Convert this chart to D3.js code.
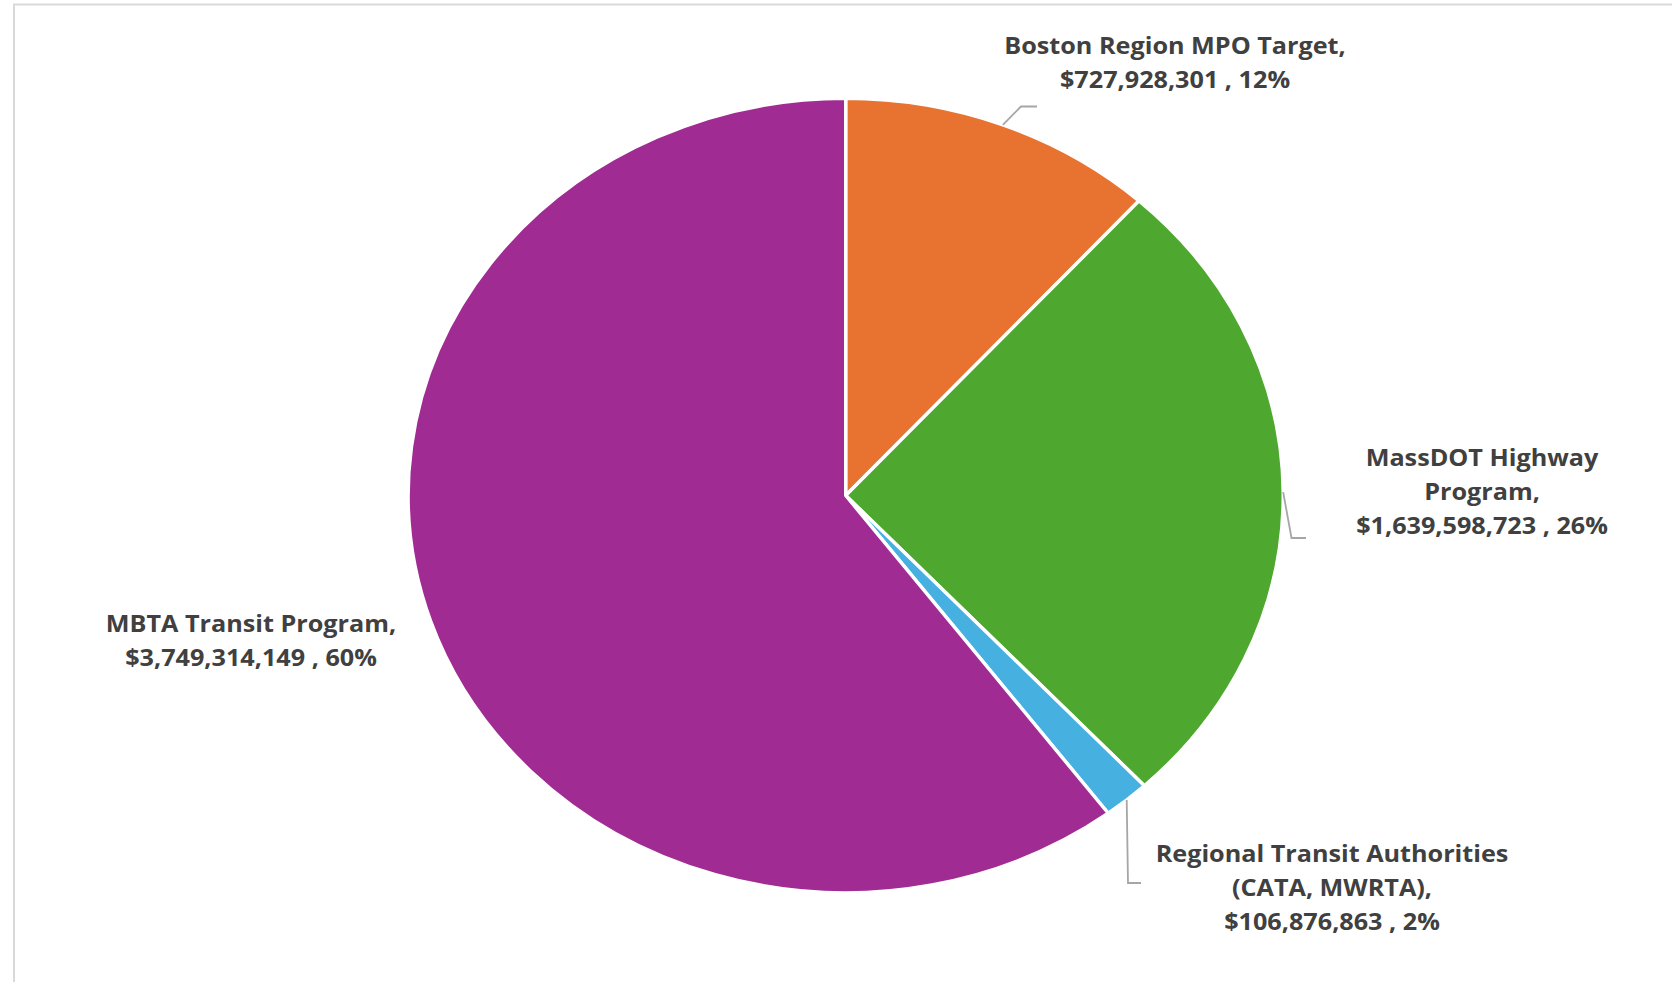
<!DOCTYPE html>
<meta charset="utf-8">
<title>Funding sources pie</title>
<style>
body {
  margin: 0px;
  background: #fff;
}
svg {
  display: block;
}
.label {
  font-family: "Open Sans", sans-serif;
  font-weight: 700;
  font-size: 23px;
  fill: #404040;
}
path.leader {
  fill: none;
  stroke: #a6a6a6;
  stroke-width: 1.8;
}
</style>

<script src="https://d3js.org/d3.v7.min.js"></script>

<body>
<script>
var width = 1672, height = 982;

// chart data
var names = ["Boston Region MPO Target", "MassDOT Highway Program", "Regional Transit Authorities (CATA, MWRTA)", "MBTA Transit Program"];
var values = [727928301, 1639598723, 106876863, 3749314149];
var colors = ["#e8722f", "#4ea72e", "#46b1e1", "#a02b93"];
var labelLines = [
  ["Boston Region MPO Target,", "$727,928,301 , 12%"],
  ["MassDOT Highway", "Program,", "$1,639,598,723 , 26%"],
  ["Regional Transit Authorities", "(CATA, MWRTA),", "$106,876,863 , 2%"],
  ["MBTA Transit Program,", "$3,749,314,149 , 60%"]
];

// layout (label centre of first line, elbow of leader line)
var labelPos = [[1175, 46], [1482, 458], [1332, 854], [251, 624]];
var elbows = [[[1021, 106.5], [1037, 106.5]], [[1291.5, 538], [1306, 538]], [[1128, 883], [1141, 883]], null];
var lineH = 34;

var cx = 845.7, cy = 495.5, rx = 437.5, ry = 397.2;

var svg = d3.select("body").append("svg")
    .attr("width", width)
    .attr("height", height);

// chart frame
svg.append("rect")
    .attr("x", 14).attr("y", 4.5)
    .attr("width", width + 20).attr("height", height + 20)
    .attr("fill", "none")
    .attr("stroke", "#d9d9d9")
    .attr("stroke-width", 2);

var pie = d3.pie().sort(null).value(function(d) { return d; });
var arcs = pie(values);
var arc = d3.arc().innerRadius(0).outerRadius(ry);

// pie is stretched horizontally into an ellipse
var g = svg.append("g")
    .attr("transform", "translate(" + cx + "," + cy + ") scale(" + (rx / ry) + ",1)");

g.selectAll("path.slice")
    .data(arcs)
  .enter().append("path")
    .attr("class", "slice")
    .attr("d", arc)
    .attr("fill", function(d, i) { return colors[i]; })
    .attr("stroke", "#fff")
    .attr("stroke-width", 3.4)
    .attr("vector-effect", "non-scaling-stroke")
    .attr("stroke-linejoin", "round");

// leader lines from the slice edge
arcs.forEach(function(d, i) {
  if (!elbows[i]) return;
  var a = (d.startAngle + d.endAngle) / 2;
  var p0 = [cx + rx * Math.sin(a), cy - ry * Math.cos(a)];
  var pts = [p0].concat(elbows[i]);
  svg.append("path")
      .attr("class", "leader")
      .attr("d", d3.line()(pts));
});

// labels, stretched the same way as the pie
labelLines.forEach(function(lines, i) {
  var t = svg.append("text")
      .attr("class", "label")
      .attr("text-anchor", "middle")
      .attr("transform", "translate(" + labelPos[i][0] + "," + labelPos[i][1] + ") scale(1.096,1)");
  lines.forEach(function(s, j) {
    t.append("tspan")
        .attr("x", 0)
        .attr("y", j * lineH)
        .attr("dy", "0.35em")
        .text(s);
  });
});
</script>
